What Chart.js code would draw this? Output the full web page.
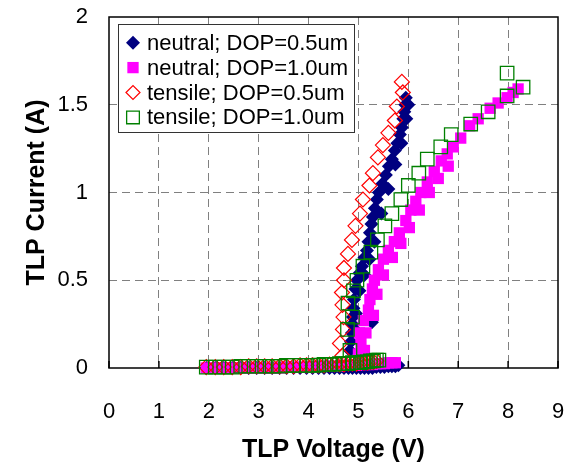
<!DOCTYPE html>
<html>
<head>
<meta charset="utf-8">
<script src="https://cdn.jsdelivr.net/npm/chart.js@4.4.1/dist/chart.umd.min.js"></script>
<style>
  html, body { margin: 0; padding: 0; background: #fff; }
  #wrap { width: 573px; height: 467px; }
</style>
</head>
<body>
<div id="wrap"><canvas id="tlp" width="573" height="467"></canvas></div>
<script>
// TLP I-V data (voltage in V, current in A)
const neutral05V = [1.95, 2.13, 2.3, 2.47, 2.64, 2.8, 2.96, 3.12, 3.27, 3.42, 3.56, 3.7, 3.83, 3.96, 4.08, 4.2, 4.31, 4.42, 4.52, 4.62, 4.71, 4.8, 4.88, 4.96, 5.04, 5.12, 5.2, 5.28, 5.36, 5.44, 5.52, 5.6, 5.67, 5.74, 5.8,
  5.27,
  4.83, 4.85, 4.87, 4.88, 4.89, 4.9, 4.91, 4.94, 4.97, 5.02, 5.07, 5.12, 5.17, 5.2, 5.23, 5.26, 5.29, 5.33, 5.37, 5.41, 5.48, 5.55, 5.61, 5.67, 5.73, 5.78, 5.83, 5.87, 5.9, 5.92, 5.94, 5.95,
  4.93, 4.95, 5.02, 5.12, 5.22, 5.32, 5.46, 5.6, 5.74, 5.86, 5.96, 6.0];
const neutral05I = [0, 0, 0, 0, 0, 0, 0, 0, 0, 0, 0, 0, 0, 0, 0, 0, 0, 0, 0, 0, 0, 0, 0, 0, 0, 0, 0, 0, 0.005, 0.005, 0.005, 0.01, 0.01, 0.01, 0.015,
  0.26,
  0.1, 0.15, 0.2, 0.25, 0.29, 0.34, 0.39, 0.45, 0.5, 0.54, 0.58, 0.63, 0.67, 0.72, 0.77, 0.82, 0.86, 0.91, 0.96, 1.0, 1.05, 1.1, 1.15, 1.19, 1.24, 1.28, 1.33, 1.37, 1.42, 1.46, 1.5, 1.54,
  0.22, 0.31, 0.44, 0.53, 0.62, 0.72, 0.88, 1.02, 1.16, 1.28, 1.42, 1.5];

const neutral10V = [1.95, 2.13, 2.3, 2.47, 2.64, 2.8, 2.96, 3.12, 3.27, 3.42, 3.56, 3.7, 3.83, 3.96, 4.08, 4.2, 4.31, 4.42, 4.52, 4.62, 4.71, 4.8, 4.88, 4.96, 5.04, 5.12, 5.2, 5.28, 5.36, 5.44, 5.52, 5.6, 5.67, 5.74,
  5.0, 5.05, 5.02, 5.1, 5.2, 5.23, 5.28, 5.32, 5.4, 5.5, 5.6, 5.72, 5.82, 5.95, 6.05, 6.15, 6.25, 6.38, 6.52, 6.66, 6.78, 6.9, 7.05, 7.23, 7.4, 7.64, 7.8, 7.98, 8.1, 8.2,
  5.12, 5.15, 5.3, 5.37, 5.5, 5.68, 5.85, 6.02, 6.22, 6.42, 6.6, 6.8];
const neutral10I = [0, 0, 0, 0, 0, 0, 0, 0, 0, 0, 0.005, 0.005, 0.005, 0.005, 0.005, 0.01, 0.01, 0.01, 0.01, 0.01, 0.015, 0.015, 0.015, 0.015, 0.02, 0.02, 0.02, 0.02, 0.025, 0.025, 0.025, 0.03, 0.03, 0.03,
  0.08, 0.14, 0.2, 0.27, 0.33, 0.39, 0.45, 0.5, 0.56, 0.62, 0.67, 0.72, 0.77, 0.84, 0.9, 0.95, 1.0, 1.06, 1.12, 1.18, 1.22, 1.26, 1.31, 1.38, 1.42, 1.48, 1.51, 1.54, 1.57, 1.59,
  0.1, 0.2, 0.3, 0.42, 0.53, 0.63, 0.71, 0.8, 0.9, 1.0, 1.08, 1.15];

const tensile05V = [1.95, 2.13, 2.3, 2.47, 2.64, 2.8, 2.96, 3.12, 3.27, 3.42, 3.56, 3.7, 3.83, 3.96, 4.08, 4.2, 4.31, 4.42, 4.52, 4.62, 4.71, 4.8, 4.88, 4.96, 5.04, 5.11, 5.18, 5.24, 5.3, 5.36,
  4.68, 4.63, 4.69, 4.7, 4.68, 4.67, 4.71, 4.71, 4.79, 4.87, 4.94, 5.03, 5.09, 5.22, 5.29, 5.39, 5.49, 5.6, 5.73, 5.77, 5.89, 5.87];
const tensile05I = [0.005, 0.005, 0.005, 0.005, 0.005, 0.01, 0.01, 0.01, 0.01, 0.01, 0.01, 0.01, 0.015, 0.015, 0.015, 0.015, 0.015, 0.02, 0.02, 0.02, 0.02, 0.025, 0.025, 0.025, 0.03, 0.03, 0.03, 0.035, 0.035, 0.04,
  0.07, 0.14, 0.22, 0.29, 0.36, 0.43, 0.5, 0.57, 0.65, 0.73, 0.81, 0.88, 0.96, 1.04, 1.11, 1.2, 1.27, 1.34, 1.41, 1.49, 1.57, 1.63];

const tensile10V = [1.95, 2.13, 2.3, 2.47, 2.64, 2.8, 2.96, 3.12, 3.27, 3.42, 3.56, 3.7, 3.83, 3.96, 4.08, 4.2, 4.31, 4.42, 4.52, 4.62, 4.71, 4.8, 4.88, 4.96, 5.04, 5.11, 5.18, 5.24, 5.3, 5.36, 5.41,
  4.83, 4.78, 4.88, 4.79, 4.9, 4.97, 5.09, 5.25, 5.38, 5.53, 5.67, 5.85, 6.0, 6.21, 6.38, 6.65, 6.86, 7.25, 7.6, 7.98, 8.3, 7.98];
const tensile10I = [0.005, 0.005, 0.005, 0.005, 0.01, 0.01, 0.01, 0.01, 0.01, 0.01, 0.015, 0.015, 0.015, 0.015, 0.015, 0.017, 0.02, 0.02, 0.02, 0.025, 0.025, 0.025, 0.03, 0.03, 0.03, 0.035, 0.035, 0.04, 0.04, 0.045, 0.045,
  0.1, 0.22, 0.29, 0.37, 0.44, 0.5, 0.58, 0.66, 0.73, 0.81, 0.88, 0.96, 1.04, 1.11, 1.19, 1.26, 1.33, 1.39, 1.46, 1.55, 1.6, 1.68];

const seriesLabels = ['neutral; DOP=0.5um', 'neutral; DOP=1.0um', 'tensile; DOP=0.5um', 'tensile; DOP=1.0um'];
const xTickLabels = ['0', '1', '2', '3', '4', '5', '6', '7', '8', '9'];
const yTickLabels = ['0', '0.5', '1', '1.5', '2'];

const toPoints = (xs, ys) => xs.map((v, i) => ({ x: v, y: ys[i] }));
const FONT = '"Liberation Sans", Arial, sans-serif';

const datasets = [
  { label: seriesLabels[0], data: toPoints(neutral05V, neutral05I), pointStyle: 'rectRot', pointRadius: 7,
    backgroundColor: '#000080', borderColor: '#000080', borderWidth: 0, order: 4, legendRadius: 7 },
  { label: seriesLabels[1], data: toPoints(neutral10V, neutral10I), pointStyle: 'rect', pointRadius: 8,
    backgroundColor: '#FF00FF', borderColor: '#FF00FF', borderWidth: 0, order: 3, legendRadius: 8 },
  { label: seriesLabels[2], data: toPoints(tensile05V, tensile05I), pointStyle: 'rectRot', pointRadius: 7.5,
    backgroundColor: 'rgba(0,0,0,0)', borderColor: '#FF0000', borderWidth: 1.2, order: 2, legendRadius: 7 },
  { label: seriesLabels[3], data: toPoints(tensile10V, tensile10I), pointStyle: 'rect', pointRadius: 9.5,
    backgroundColor: 'rgba(0,0,0,0)', borderColor: '#008000', borderWidth: 1.3, order: 1, legendRadius: 9 },
];
datasets.forEach(d => { d.clip = false; d.pointHoverRadius = d.pointRadius; });

// box around the plot area plus small inner ticks on the bottom axis
const framePlugin = {
  id: 'frame',
  beforeDatasetsDraw(chart) {
    const { ctx, chartArea: a, scales } = chart;
    ctx.save();
    ctx.strokeStyle = '#000';
    ctx.lineWidth = 1.5;
    ctx.strokeRect(a.left, a.top, a.right - a.left, a.bottom - a.top);
    ctx.beginPath();
    scales.x.ticks.forEach(t => {
      const px = scales.x.getPixelForValue(t.value);
      ctx.moveTo(px, a.bottom);
      ctx.lineTo(px, a.bottom - 7);
    });
    ctx.stroke();
    ctx.restore();
  }
};

// legend box sitting inside the plot, top-left
const legendPlugin = {
  id: 'boxLegend',
  afterDatasetsDraw(chart) {
    const ctx = chart.ctx;
    ctx.save();
    ctx.fillStyle = '#fff';
    ctx.fillRect(118.5, 24.5, 236, 108);
    ctx.strokeStyle = '#333';
    ctx.lineWidth = 1;
    ctx.strokeRect(118.5, 24.5, 236, 108);
    chart.data.datasets.forEach((ds, i) => {
      const y = 42.7 + i * 24.9;
      ctx.fillStyle = ds.backgroundColor;
      ctx.strokeStyle = ds.borderColor;
      ctx.lineWidth = ds.borderWidth;
      Chart.helpers.drawPoint(ctx, { pointStyle: ds.pointStyle, radius: ds.legendRadius, rotation: 0, borderWidth: ds.borderWidth }, 133, y);
      ctx.fillStyle = '#000';
      ctx.font = '22px ' + FONT;
      ctx.textBaseline = 'middle';
      ctx.textAlign = 'left';
      ctx.fillText(ds.label, 147, y + 1);
    });
    ctx.restore();
  }
};

new Chart(document.getElementById('tlp'), {
  type: 'scatter',
  data: { datasets },
  options: {
    responsive: false,
    devicePixelRatio: 1,
    animation: false,
    layout: { padding: { top: 17, right: 15, left: 0, bottom: 0 } },
    plugins: { legend: { display: false }, tooltip: { enabled: false } },
    scales: {
      x: {
        type: 'linear', min: 0, max: 9,
        afterFit: s => { s.height = 99; },
        border: { display: false, dash: [8, 5] },
        grid: {
          drawTicks: true, tickLength: 29, tickColor: 'rgba(0,0,0,0)', lineWidth: 1,
          color: c => (c.index === 0 || c.index === xTickLabels.length - 1) ? 'rgba(0,0,0,0)' : '#808080'
        },
        ticks: {
          stepSize: 1, padding: 2, color: '#000', font: { family: FONT, size: 22 },
          callback: (v, i) => xTickLabels[i]
        },
        title: { display: true, text: 'TLP Voltage (V)', color: '#000', padding: { top: 0, bottom: 2 },
          font: { family: FONT, size: 25, weight: 'bold' } }
      },
      y: {
        type: 'linear', min: 0, max: 2,
        afterFit: s => { s.width = 109; },
        border: { display: false, dash: [8, 5] },
        grid: {
          drawTicks: true, tickLength: 19, tickColor: 'rgba(0,0,0,0)', lineWidth: 1,
          color: c => (c.index === 0 || c.index === yTickLabels.length - 1) ? 'rgba(0,0,0,0)' : '#808080'
        },
        ticks: {
          stepSize: 0.5, padding: 2, color: '#000', font: { family: FONT, size: 22 },
          callback: (v, i) => yTickLabels[i]
        },
        title: { display: true, text: 'TLP Current (A)', color: '#000', padding: { top: 22, bottom: 0 },
          font: { family: FONT, size: 25, weight: 'bold' } }
      }
    }
  },
  plugins: [framePlugin, legendPlugin]
});
</script>
</body>
</html>
